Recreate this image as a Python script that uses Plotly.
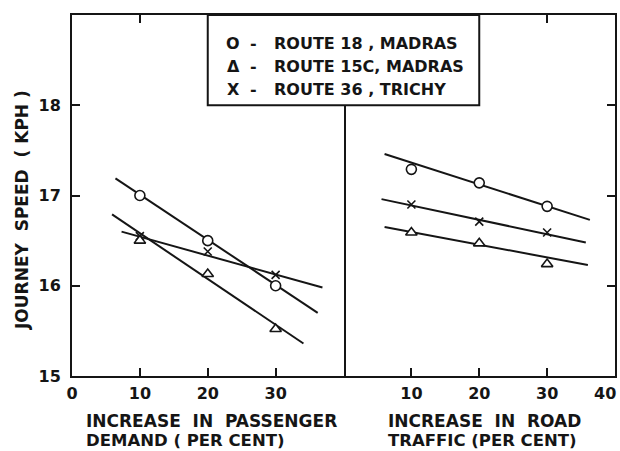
import plotly.graph_objects as go

# ---- data ----
x_pts = [10, 20, 30]

# Left panel: increase in passenger demand (per cent)
demand_r18 = [17.00, 16.50, 16.00]
demand_r15c = [16.50, 16.13, 15.52]
demand_r36 = [16.55, 16.38, 16.12]

demand_fit_r18_x = [6.4, 36.2]
demand_fit_r18_y = [17.19, 15.70]
demand_fit_r15c_x = [5.9, 34.1]
demand_fit_r15c_y = [16.79, 15.36]
demand_fit_r36_x = [7.3, 36.9]
demand_fit_r36_y = [16.60, 15.98]

# Right panel: increase in road traffic (per cent)
traffic_r18 = [17.29, 17.14, 16.88]
traffic_r15c = [16.59, 16.47, 16.24]
traffic_r36 = [16.90, 16.71, 16.59]

traffic_fit_r18_x = [6.05, 36.3]
traffic_fit_r18_y = [17.46, 16.73]
traffic_fit_r15c_x = [6.05, 36.0]
traffic_fit_r15c_y = [16.65, 16.23]
traffic_fit_r36_x = [5.6, 35.7]
traffic_fit_r36_y = [16.96, 16.48]

left_ticks = [0, 10, 20, 30]
left_tick_text = ["0", "10", "20", "30"]
right_ticks = [10, 20, 30, 40]
right_tick_text = ["10", "20", "30", "40"]
y_ticks = [15, 16, 17, 18]
y_tick_text = ["15", "16", "17", "18"]

legend_symbols = ["O", "Δ", "X"]
legend_labels = ["ROUTE 18 , MADRAS", "ROUTE 15C, MADRAS", "ROUTE 36 , TRICHY"]

FONT = "DejaVu Sans"
INK = "#151515"

W, H = 620, 451
ML, MR, MT, MB = 72, 5, 15, 75
PW = W - ML - MR          # 543
PH = H - MT - MB          # 361


def px_x(px):
    return (px - ML) / PW


def px_y(py):
    return (H - MB - py) / PH


fig = go.Figure()


def add_fit(x, y, xa, ya):
    fig.add_trace(go.Scatter(x=x, y=y, mode="lines", xaxis=xa, yaxis=ya,
                             line=dict(color=INK, width=2), showlegend=False,
                             hoverinfo="skip"))


def add_pts(y, symbol, size, xa, ya, fill="white"):
    fig.add_trace(go.Scatter(x=x_pts, y=y, mode="markers", xaxis=xa, yaxis=ya,
                             marker=dict(symbol=symbol, size=size, color=fill,
                                         line=dict(color=INK, width=1.6)),
                             showlegend=False))


# left panel
add_fit(demand_fit_r18_x, demand_fit_r18_y, "x", "y")
add_fit(demand_fit_r15c_x, demand_fit_r15c_y, "x", "y")
add_fit(demand_fit_r36_x, demand_fit_r36_y, "x", "y")
add_pts(demand_r36, "x-thin", 8, "x", "y", fill=INK)
add_pts(demand_r18, "circle", 10, "x", "y")
add_pts(demand_r15c, "triangle-up", 10, "x", "y")

# right panel
add_fit(traffic_fit_r18_x, traffic_fit_r18_y, "x2", "y2")
add_fit(traffic_fit_r15c_x, traffic_fit_r15c_y, "x2", "y2")
add_fit(traffic_fit_r36_x, traffic_fit_r36_y, "x2", "y2")
add_pts(traffic_r36, "x-thin", 8, "x2", "y2", fill=INK)
add_pts(traffic_r18, "circle", 10, "x2", "y2")
add_pts(traffic_r15c, "triangle-up", 10, "x2", "y2")

tick_font = dict(family=FONT, size=16, color=INK, weight="bold")
axis_common = dict(showgrid=False, zeroline=False, showline=True, linecolor=INK,
                   linewidth=2, ticks="inside", ticklen=8, tickwidth=2,
                   tickcolor=INK, tickfont=tick_font, fixedrange=True)

fig.update_layout(
    width=W, height=H,
    margin=dict(l=ML, r=MR, t=MT, b=MB),
    paper_bgcolor="white", plot_bgcolor="white",
    showlegend=False,
    xaxis=dict(domain=[0, 0.5], range=[0, 40], tickvals=left_ticks,
               ticktext=left_tick_text, mirror="ticks", anchor="y",
               ticklabelstandoff=2, **axis_common),
    # the last right-panel label sits at the page edge; it is drawn as an annotation below
    xaxis2=dict(domain=[0.5, 1], range=[0, 40], tickvals=right_ticks,
                ticktext=right_tick_text[:-1] + [""], mirror="ticks", anchor="y2",
                ticklabelstandoff=2, **axis_common),
    yaxis=dict(domain=[0, 1], range=[15, 19], tickvals=y_ticks,
               ticktext=y_tick_text, mirror=True, anchor="x",
               ticklabelstandoff=6, **axis_common),
    yaxis2=dict(domain=[0, 1], range=[15, 19], tickvals=y_ticks[1:],
                showticklabels=False, side="right", anchor="x2", **axis_common),
)

fig.add_annotation(x=right_ticks[-1], y=px_y(393), xref="x2", yref="paper",
                   text=right_tick_text[-1], showarrow=False, xanchor="right",
                   xshift=3, yanchor="middle", font=tick_font)

# legend box
fig.add_shape(type="rect", xref="paper", yref="paper", x0=0.25, x1=0.75,
              y0=0.75, y1=1.0, fillcolor="white",
              line=dict(color=INK, width=2), layer="above")

leg_font = dict(family=FONT, size=16, color=INK, weight="bold")
leg_y_px = [43, 67, 89]
for sym, lab, yy in zip(legend_symbols, legend_labels, leg_y_px):
    fig.add_annotation(x=px_x(233), y=px_y(yy), xref="paper", yref="paper",
                       text=sym, showarrow=False, xanchor="center",
                       yanchor="middle", font=leg_font)
    fig.add_annotation(x=px_x(253), y=px_y(yy), xref="paper", yref="paper",
                       text="-", showarrow=False, xanchor="center",
                       yanchor="middle", font=leg_font)
    fig.add_annotation(x=px_x(272), y=px_y(yy), xref="paper", yref="paper",
                       text=lab, showarrow=False, xanchor="left",
                       yanchor="middle", font=leg_font)

title_font = dict(family=FONT, size=17, color=INK, weight="bold")
title_font2 = dict(family=FONT, size=16.5, color=INK, weight="bold")
# axis titles
fig.add_annotation(x=px_x(84), y=px_y(421), xref="paper", yref="paper",
                   text="INCREASE  IN  PASSENGER", showarrow=False, xanchor="left",
                   yanchor="middle", font=title_font)
fig.add_annotation(x=px_x(84), y=px_y(440), xref="paper", yref="paper",
                   text="DEMAND ( PER CENT)", showarrow=False, xanchor="left",
                   yanchor="middle", font=title_font2)
fig.add_annotation(x=px_x(386), y=px_y(421), xref="paper", yref="paper",
                   text="INCREASE  IN  ROAD", showarrow=False, xanchor="left",
                   yanchor="middle", font=title_font)
fig.add_annotation(x=px_x(386), y=px_y(440), xref="paper", yref="paper",
                   text="TRAFFIC (PER CENT)", showarrow=False, xanchor="left",
                   yanchor="middle", font=title_font2)
fig.add_annotation(x=px_x(22), y=px_y(210), xref="paper", yref="paper",
                   text="JOURNEY  SPEED  ( KPH )", showarrow=False, textangle=-90,
                   xanchor="center", yanchor="middle", font=title_font)

fig.write_html("out.html", config={"displayModeBar": False},
               post_script="document.body.style.margin='0px';")
